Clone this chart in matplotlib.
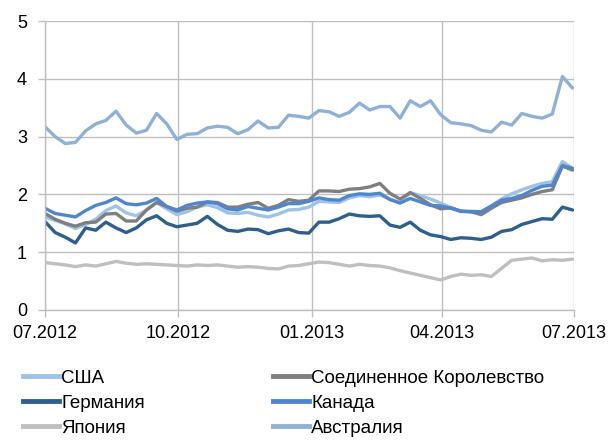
import matplotlib
matplotlib.use("Agg")
import matplotlib.pyplot as plt
import matplotlib.dates as mdates
from matplotlib.lines import Line2D
import pandas as pd

plt.rcParams['font.family'] = ['Liberation Sans', 'DejaVu Sans']

dates = pd.date_range("2012-07-01", periods=53, freq="7D")

usa = [1.61, 1.55, 1.49, 1.41, 1.48, 1.57, 1.72, 1.80, 1.68, 1.63,
       1.73, 1.86, 1.75, 1.65, 1.70, 1.78, 1.82, 1.77, 1.68, 1.67,
       1.69, 1.64, 1.61, 1.66, 1.73, 1.74, 1.78, 1.88, 1.87, 1.86,
       1.94, 1.98, 1.96, 1.99, 1.92, 1.86, 2.03, 1.98, 1.92, 1.85,
       1.77, 1.70, 1.71, 1.70, 1.80, 1.92, 2.01, 2.08, 2.14, 2.19,
       2.22, 2.57, 2.45]
uk = [1.67, 1.57, 1.50, 1.45, 1.51, 1.52, 1.66, 1.67, 1.54, 1.54,
      1.73, 1.86, 1.79, 1.71, 1.76, 1.78, 1.87, 1.86, 1.78, 1.78,
      1.83, 1.86, 1.76, 1.81, 1.91, 1.88, 1.90, 2.06, 2.06, 2.05,
      2.09, 2.10, 2.13, 2.19, 2.02, 1.92, 2.03, 1.93, 1.82, 1.75,
      1.77, 1.71, 1.70, 1.65, 1.76, 1.86, 1.90, 1.94, 2.00, 2.05,
      2.08, 2.49, 2.42]
germany = [1.53, 1.34, 1.26, 1.16, 1.42, 1.38, 1.52, 1.42, 1.34, 1.42,
           1.56, 1.63, 1.50, 1.44, 1.47, 1.50, 1.62, 1.48, 1.38, 1.36,
           1.40, 1.39, 1.32, 1.37, 1.40, 1.34, 1.33, 1.52, 1.52, 1.58,
           1.66, 1.63, 1.62, 1.63, 1.47, 1.43, 1.52, 1.38, 1.30, 1.27,
           1.22, 1.25, 1.24, 1.22, 1.26, 1.36, 1.39, 1.48, 1.53, 1.58,
           1.57, 1.78, 1.73]
canada = [1.76, 1.67, 1.64, 1.61, 1.72, 1.81, 1.86, 1.94, 1.84, 1.82,
          1.85, 1.93, 1.79, 1.73, 1.81, 1.85, 1.87, 1.84, 1.75, 1.73,
          1.79, 1.76, 1.73, 1.78, 1.84, 1.84, 1.88, 1.94, 1.91, 1.90,
          1.98, 2.01, 2.00, 2.02, 1.91, 1.85, 1.93, 1.87, 1.81, 1.80,
          1.76, 1.71, 1.70, 1.70, 1.80, 1.90, 1.93, 1.98, 2.07, 2.14,
          2.16, 2.50, 2.45]
japan = [0.82, 0.80, 0.78, 0.75, 0.78, 0.76, 0.80, 0.84, 0.81, 0.79,
         0.80, 0.79, 0.78, 0.77, 0.76, 0.78, 0.77, 0.78, 0.76, 0.74,
         0.75, 0.74, 0.72, 0.71, 0.76, 0.77, 0.80, 0.83, 0.82, 0.79,
         0.76, 0.79, 0.77, 0.76, 0.73, 0.68, 0.64, 0.60, 0.56, 0.52,
         0.58, 0.62, 0.60, 0.61, 0.58, 0.72, 0.86, 0.88, 0.90, 0.85,
         0.87, 0.86, 0.88]
australia = [3.17, 3.00, 2.88, 2.90, 3.10, 3.22, 3.28, 3.44, 3.20, 3.06,
             3.11, 3.40, 3.22, 2.95, 3.04, 3.05, 3.15, 3.18, 3.16, 3.05,
             3.12, 3.27, 3.15, 3.16, 3.37, 3.35, 3.32, 3.45, 3.43, 3.35,
             3.42, 3.58, 3.46, 3.52, 3.52, 3.32, 3.62, 3.52, 3.62, 3.38,
             3.24, 3.22, 3.19, 3.11, 3.08, 3.25, 3.20, 3.40, 3.35, 3.32,
             3.39, 4.04, 3.84]

series_names = ["США", "Соединенное Королевство", "Германия", "Канада", "Япония", "Австралия"]
series_values = [usa, uk, germany, canada, japan, australia]
colors = ["#9DC3E6", "#7F7F7F", "#2F5F8F", "#4F86CF", "#BFBFBF", "#8FB0D9"]

tick_dates = ["2012-07-01", "2012-10-01", "2013-01-01", "2013-04-01", "2013-07-01"]
y_ticks = [0, 1, 2, 3, 4, 5]

fig = plt.figure(figsize=(6.08, 4.41), dpi=100)
ax = fig.add_axes([45/608, 1-310/441, 529/608, 289/441])

lines = {}
for name, vals, c in zip(series_names, series_values, colors):
    ln, = ax.plot(dates, vals, color=c, lw=2.4, solid_joinstyle='round', solid_capstyle='round')
    lines[name] = ln

ax.set_xlim(pd.Timestamp(tick_dates[0]), pd.Timestamp(tick_dates[-1]))
ax.set_ylim(0, 5)
ax.set_yticks(y_ticks)
ax.set_xticks([pd.Timestamp(d) for d in tick_dates])
ax.xaxis.set_major_formatter(mdates.DateFormatter("%m.%Y"))

gc = "#BFBFBF"
ax.grid(True, color=gc, lw=1.0)
ax.set_axisbelow(True)
for s in ["top", "right"]:
    ax.spines[s].set_visible(False)
for s in ["left", "bottom"]:
    ax.spines[s].set_color(gc)
    ax.spines[s].set_linewidth(1.0)
ax.tick_params(axis='both', colors=gc, length=5, width=1.0, labelcolor="#000000", labelsize=13)
ax.tick_params(axis='y', pad=8)
ax.tick_params(axis='x', pad=6)

left_names = ["США", "Германия", "Япония"]
right_names = ["Соединенное Королевство", "Канада", "Австралия"]
for names, xpos in [(left_names, 21/608), (right_names, 271/608)]:
    handles = [Line2D([], [], color=lines[n].get_color(), lw=3.5) for n in names]
    fig.legend(handles, names, loc="upper left", bbox_to_anchor=(xpos, 1-368/441),
               frameon=False, fontsize=13.5,
               handlelength=1.9, handletextpad=0.14,
               labelspacing=0.42, borderaxespad=0, borderpad=0.1)

fig.savefig("out.png", dpi=100)
